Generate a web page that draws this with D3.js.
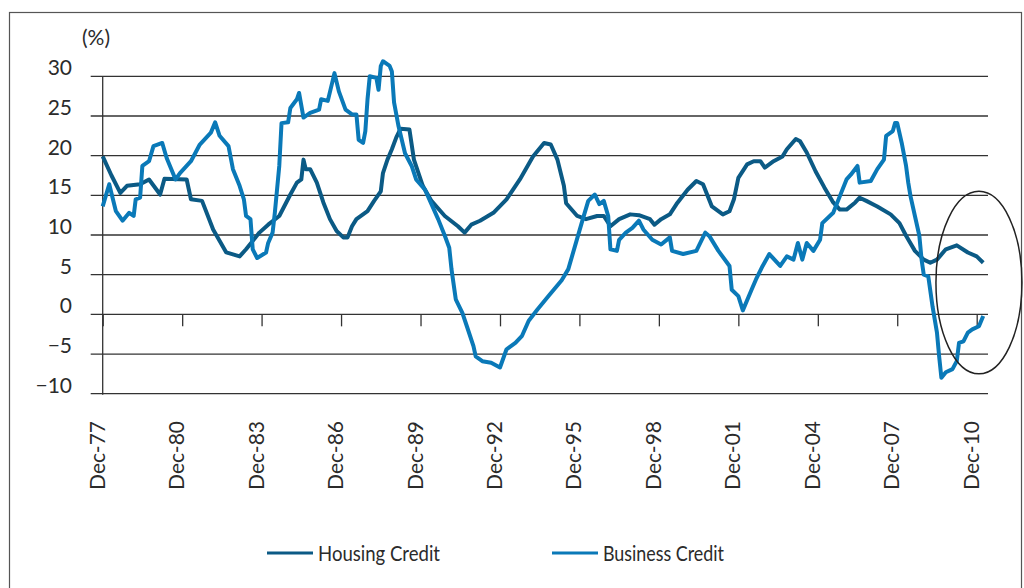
<!DOCTYPE html>
<html>
<head>
<meta charset="utf-8">
<script src="https://cdn.jsdelivr.net/npm/d3@7"></script>
<style>
  body { margin: 0; background: #fff; }
  svg text { font-family: Lato, "Open Sans", sans-serif; font-weight: 400; fill: #2b2b2b; }
</style>
</head>
<body>
<script>
// データ
var housingDates = ["1977-12","1978-04","1978-08","1978-11","1979-05","1979-09","1980-02","1980-04","1981-02","1981-04",
  "1981-09","1982-02","1982-08","1983-02","1983-05","1983-11","1984-03","1984-08","1985-01","1985-04",
  "1985-06","1985-07","1985-08","1985-10","1986-01","1986-04","1986-07","1986-10","1987-01","1987-03",
  "1987-05","1987-07","1987-12","1988-03","1988-06","1988-07","1988-09","1988-11","1989-01","1989-03",
  "1989-07","1989-09","1990-01","1990-05","1990-11","1991-05","1991-08","1991-11","1992-03","1992-09",
  "1993-03","1993-09","1994-03","1994-08","1994-11","1995-02","1995-05","1995-06","1995-11","1996-03",
  "1996-08","1996-11","1997-02","1997-06","1997-11","1998-03","1998-08","1998-10","1999-01","1999-05",
  "1999-08","2000-01","2000-05","2000-08","2000-12","2001-05","2001-08","2001-10","2001-12","2002-04",
  "2002-07","2002-10","2002-12","2003-04","2003-08","2003-10","2004-02","2004-04","2004-07","2004-11",
  "2005-03","2005-07","2005-10","2006-01","2006-05","2006-07","2006-10","2007-03","2007-09","2008-01",
  "2008-04","2008-08","2008-12","2009-03","2009-06","2009-10","2010-03","2010-08","2010-12","2011-03"];
var housingValues = [19.9,17.5,15.3,16.2,16.4,17.0,15.1,17.1,17.0,14.5,
  14.3,10.7,7.8,7.3,8.2,10.3,11.3,12.4,15.1,16.6,
  17.0,19.5,18.3,18.3,16.6,14.1,12.0,10.5,9.7,9.7,
  11.1,12.0,13.0,14.3,15.5,17.8,19.5,20.8,22.3,23.4,
  23.3,19.5,16.2,14.3,12.4,11.1,10.3,11.3,11.8,12.8,
  14.5,17.0,19.9,21.6,21.4,19.5,16.2,14.0,12.4,12.0,
  12.4,12.4,11.1,12.0,12.6,12.5,12.0,11.3,12.0,12.6,
  13.9,15.7,16.8,16.4,13.6,12.6,13.0,14.5,17.2,18.9,
  19.3,19.3,18.5,19.3,19.9,20.8,22.1,21.8,20.4,18.0,
  16.0,14.1,13.2,13.2,14.1,14.7,14.3,13.6,12.6,11.5,
  9.9,8.0,6.9,6.5,6.9,8.2,8.7,7.8,7.3,6.5];

var businessDates = ["1977-12","1978-03","1978-06","1978-09","1978-12","1979-02","1979-03","1979-05","1979-06","1979-09",
  "1979-11","1980-03","1980-05","1980-09","1980-11","1981-04","1981-08","1982-01","1982-03","1982-05",
  "1982-09","1982-11","1983-02","1983-04","1983-05","1983-07","1983-08","1983-10","1984-02","1984-03",
  "1984-05","1984-06","1984-08","1984-09","1984-12","1985-01","1985-04","1985-05","1985-07","1985-10",
  "1986-02","1986-03","1986-06","1986-08","1986-09","1986-11","1987-02","1987-05","1987-07","1987-08",
  "1987-10","1987-11","1987-12","1988-01","1988-04","1988-05","1988-06","1988-07","1988-10","1988-11",
  "1988-12","1989-02","1989-05","1989-08","1989-10","1990-02","1990-05","1990-08","1990-11","1991-01",
  "1991-02","1991-04","1991-07","1991-09","1991-12","1992-01","1992-04","1992-08","1992-12","1993-03",
  "1993-07","1993-10","1994-01","1994-05","1994-10","1995-04","1995-07","1995-10","1996-01","1996-04",
  "1996-07","1996-09","1996-11","1997-01","1997-02","1997-05","1997-06","1997-09","1997-12","1998-03",
  "1998-05","1998-09","1999-01","1999-05","1999-06","1999-11","2000-05","2000-09","2000-11","2001-03",
  "2001-08","2001-09","2001-12","2002-02","2002-06","2002-08","2002-11","2003-02","2003-07","2003-10",
  "2004-01","2004-03","2004-05","2004-07","2004-10","2005-01","2005-02","2005-07","2005-10","2006-01",
  "2006-03","2006-06","2006-07","2006-12","2007-03","2007-06","2007-07","2007-10","2007-11","2007-12",
  "2008-02","2008-04","2008-05","2008-06","2008-08","2008-10","2008-11","2008-12","2009-02","2009-04",
  "2009-06","2009-07","2009-08","2009-10","2010-01","2010-03","2010-04","2010-06","2010-08","2010-10",
  "2011-01","2011-03"];
var businessValues = [13.6,16.4,13.0,11.8,12.8,12.4,14.5,14.7,18.7,19.3,
  21.2,21.6,19.7,17.0,17.8,19.3,21.4,22.9,24.2,22.5,
  21.2,18.3,16.2,14.5,12.4,12.0,8.2,7.1,7.8,9.0,
  10.3,12.8,18.7,24.1,24.2,26.0,27.1,27.9,24.8,25.4,
  25.8,27.1,26.9,29.2,30.4,28.1,25.8,25.2,25.2,22.0,
  21.6,23.1,27.1,30.0,29.8,28.3,31.3,31.9,31.3,30.6,
  26.7,23.7,20.3,18.7,17.0,15.7,13.9,12.0,9.9,8.4,
  5.7,1.9,0.2,-1.5,-4.0,-5.3,-5.9,-6.1,-6.7,-4.4,
  -3.6,-2.7,-0.8,0.6,2.3,4.3,5.7,8.6,11.5,14.3,
  15.1,13.9,14.3,12.4,8.2,8.0,9.4,10.3,10.9,11.8,
  10.7,9.4,8.8,9.7,8.0,7.6,8.0,10.3,9.8,8.0,
  6.1,3.1,2.3,0.5,3.1,4.4,6.1,7.6,6.1,7.3,
  6.9,9.0,6.9,9.0,8.0,9.4,11.5,12.8,14.9,17.0,
  17.6,18.7,16.6,16.8,18.3,19.5,22.5,23.1,24.1,24.1,
  21.6,18.7,16.6,14.9,12.4,9.9,6.9,5.0,4.8,1.0,
  -2.3,-5.3,-8.0,-7.3,-6.9,-5.9,-3.6,-3.4,-2.3,-1.9,
  -1.5,-0.2];

var yTicks = [-10, -5, 0, 5, 10, 15, 20, 25, 30];
var xTickDates = ["1977-12","1980-12","1983-12","1986-12","1989-12","1992-12","1995-12","1998-12","2001-12","2004-12","2007-12","2010-12"];
var seriesNames = ["Housing Credit", "Business Credit"];
var seriesColors = ["#0b5a85", "#0a79b8"];
// 楕円の注記（データ座標）
var ellipseCenter = ["2011-01", 4];
var ellipseHalfMonths = 19.5, ellipseHalfValue = 11.5;

var parseMonth = d3.timeParse("%Y-%m");
var fmt = d3.timeFormat("%b-%y");

// SVGの設定
var svg = d3.select("body").append("svg")
  .attr("width", 1024)
  .attr("height", 588);

// 外枠
svg.append("rect")
  .attr("x", 9.5).attr("y", 12.5)
  .attr("width", 1012).attr("height", 600)
  .attr("fill", "none")
  .attr("stroke", "#555")
  .attr("stroke-width", 1.2);

// スケールの設定
var xScale = d3.scaleTime()
  .domain([parseMonth("1977-12"), parseMonth("2010-12")])
  .range([102.7, 976.7]);
var yScale = d3.scaleLinear().domain([-10, 30]).range([393.7, 76.3]);
var plotRight = 988;

// グリッド線
svg.append("g").selectAll("line")
  .data(yTicks)
  .enter().append("line")
  .attr("x1", xScale.range()[0] - 12)
  .attr("x2", plotRight)
  .attr("y1", function(d) { return yScale(d); })
  .attr("y2", function(d) { return yScale(d); })
  .attr("stroke", "#333")
  .attr("stroke-width", 1.3);

// Y軸ラベル
svg.append("g").selectAll("text")
  .data(yTicks)
  .enter().append("text")
  .attr("x", 72)
  .attr("y", function(d) { return yScale(d) - 1; })
  .attr("text-anchor", "end")
  .style("font-size", "21px")
  .text(function(d) { return d < 0 ? "\u2212" + Math.abs(d) : d; });

svg.append("text")
  .attr("x", 82).attr("y", 45)
  .style("font-size", "21px")
  .text("(%)");

// Y軸の線
svg.append("line")
  .attr("x1", xScale.range()[0]).attr("x2", xScale.range()[0])
  .attr("y1", yScale(30)).attr("y2", yScale(-10) + 1)
  .attr("stroke", "#333")
  .attr("stroke-width", 1.3);

// X軸（ゼロ線上の目盛り）
var xAxis = d3.axisBottom(xScale)
  .tickValues(xTickDates.map(parseMonth))
  .tickSize(12)
  .tickFormat("");
var gx = svg.append("g")
  .attr("transform", "translate(0," + yScale(0) + ")")
  .call(xAxis);
gx.select(".domain").remove();
gx.selectAll(".tick line").attr("stroke", "#333").attr("stroke-width", 1.3);

// X軸ラベル（回転）
svg.append("g").selectAll("text")
  .data(xTickDates)
  .enter().append("text")
  .attr("transform", function(d) {
    return "translate(" + (xScale(parseMonth(d)) + 2) + ",421) rotate(-90)";
  })
  .attr("text-anchor", "end")
  .style("font-size", "21px")
  .text(function(d) { return fmt(parseMonth(d)); });

// Lineの定義
var valueline = d3.line()
  .x(function(d) { return xScale(d.date); })
  .y(function(d) { return yScale(d.value); });

var housing = housingDates.map(function(d, i) { return { date: parseMonth(d), value: housingValues[i] }; });
var business = businessDates.map(function(d, i) { return { date: parseMonth(d), value: businessValues[i] }; });

svg.append("path")
  .attr("d", valueline(housing))
  .attr("fill", "none")
  .attr("stroke", seriesColors[0])
  .attr("stroke-width", 4)
  .attr("stroke-linejoin", "round");

svg.append("path")
  .attr("d", valueline(business))
  .attr("fill", "none")
  .attr("stroke", seriesColors[1])
  .attr("stroke-width", 4)
  .attr("stroke-linejoin", "round");

// 楕円
var ec = parseMonth(ellipseCenter[0]);
var ecx = xScale(ec);
var erx = xScale(d3.timeMonth.offset(ec, ellipseHalfMonths * 2)) - ecx;
svg.append("ellipse")
  .attr("cx", ecx)
  .attr("cy", yScale(ellipseCenter[1]))
  .attr("rx", erx / 2)
  .attr("ry", yScale(0) - yScale(ellipseHalfValue))
  .attr("fill", "none")
  .attr("stroke", "#222")
  .attr("stroke-width", 1.5);

// 凡例
var legendX = [267, 552];
var legendTextWidth = [122, 121];
var legend = svg.append("g").selectAll("g")
  .data(seriesNames)
  .enter().append("g")
  .attr("transform", function(d, i) { return "translate(" + legendX[i] + ",553)"; });
legend.append("line")
  .attr("x1", 0).attr("x2", 46)
  .attr("stroke", function(d, i) { return seriesColors[i]; })
  .attr("stroke-width", 3);
legend.append("text")
  .attr("x", 51).attr("y", 8)
  .attr("textLength", function(d, i) { return legendTextWidth[i]; })
  .attr("lengthAdjust", "spacingAndGlyphs")
  .style("font-size", "21px")
  .text(function(d) { return d; });
</script>
</body>
</html>
